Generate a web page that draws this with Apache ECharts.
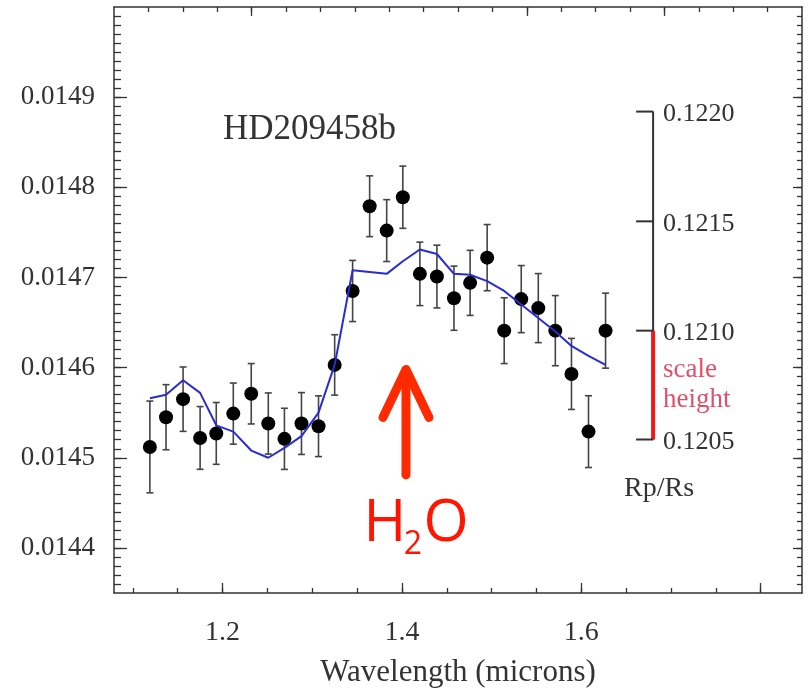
<!DOCTYPE html>
<html>
<head>
<meta charset="utf-8">
<script src="https://cdn.jsdelivr.net/npm/echarts@6/dist/echarts.min.js"></script>
<style>
  html, body { margin: 0; padding: 0; background: #fff; }
  #chart { width: 809px; height: 693px; }
</style>
</head>
<body>
<div id="chart"></div>
<script>
// Transit depth spectrum of HD209458b (WFC3 bins)
const wavelength = [1.119, 1.137, 1.156, 1.175, 1.193, 1.212, 1.232, 1.251, 1.269, 1.288,
  1.307, 1.325, 1.345, 1.364, 1.383, 1.401, 1.420, 1.439, 1.458, 1.476,
  1.495, 1.514, 1.533, 1.552, 1.571, 1.589, 1.608, 1.627];
const depth = [0.014512, 0.014545, 0.014565, 0.014522, 0.014527, 0.014549, 0.014571, 0.014538, 0.014521, 0.014538,
  0.014535, 0.014603, 0.014685, 0.014779, 0.014752, 0.014789, 0.014704, 0.014701, 0.014677, 0.014694,
  0.014722, 0.014641, 0.014676, 0.014666, 0.014641, 0.014593, 0.014529, 0.014641];
const depthErr = [0.0000509, 0.0000361, 0.0000357, 0.0000348, 0.0000343, 0.0000339, 0.0000335, 0.0000339, 0.0000339, 0.0000343,
  0.0000337, 0.0000335, 0.0000339, 0.0000337, 0.0000343, 0.0000345, 0.0000352, 0.0000348, 0.0000356, 0.0000361,
  0.0000367, 0.0000365, 0.0000372, 0.0000383, 0.0000389, 0.0000394, 0.0000398, 0.0000416];
// Model spectrum sampled at the same bins
const modelDepth = [0.014566, 0.014570, 0.014586, 0.014572, 0.014536, 0.014529, 0.014508, 0.014500, 0.014511, 0.014524,
  0.014550, 0.014603, 0.014708, 0.014706, 0.014704, 0.014718, 0.014731, 0.014726, 0.014704, 0.014703,
  0.014696, 0.014685, 0.014670, 0.014655, 0.014640, 0.014624, 0.014613, 0.014603];

// Axis labels
const xTickLabels = [1.2, 1.4, 1.6];
const yTickLabels = [0.0144, 0.0145, 0.0146, 0.0147, 0.0148, 0.0149];
// Radius-ratio scale bar (depth = (Rp/Rs)^2)
const rpRsTicks = [0.1220, 0.1215, 0.1210, 0.1205];
const scaleHeightRange = [0.1210, 0.1205];
const scaleBarX = 1.68;
// Water feature marker: x, arrow tip depth, arrow tail depth
const waterArrow = [1.4045, 0.014598, 0.014481];

const X_MIN = 1.079, X_MAX = 1.846;
const Y_MIN = 0.01435, Y_MAX = 0.0150;

const serif = 'Liberation Serif';
const ink = '#333';

const xMinor = [];
for (let k = 22; k <= 36; k++) xMinor.push(k * 0.05);
const yMinor = [];
for (let k = 1436; k <= 1499; k++) yMinor.push(k / 100000);
const topTicks = [];
for (let k = 1; k <= 19; k++) topTicks.push(k);

const chart = echarts.init(document.getElementById('chart'), null, { renderer: 'canvas' });

function tickAxis(pos, values, len) {
  return {
    type: 'value', position: pos, min: X_MIN, max: X_MAX,
    axisLine: { show: false },
    axisTick: { show: true, inside: true, length: len, customValues: values, lineStyle: { color: ink, width: 1.3 } },
    axisLabel: { show: false },
    splitLine: { show: false }
  };
}

const option = {
  animation: false,
  backgroundColor: '#fff',
  grid: { left: 114, right: 7, top: 7, bottom: 99 },
  xAxis: [
    {
      type: 'value', position: 'bottom', min: X_MIN, max: X_MAX,
      name: 'Wavelength (microns)', nameLocation: 'middle', nameGap: 64,
      nameTextStyle: { fontFamily: serif, fontSize: 31, color: ink },
      axisLine: { show: true, lineStyle: { color: ink, width: 1.5 } },
      axisTick: { show: true, inside: true, length: 10, customValues: [1.2, 1.4, 1.6, 1.8], lineStyle: { color: ink, width: 1.3 } },
      axisLabel: { show: true, customValues: xTickLabels, margin: 26, fontFamily: serif, fontSize: 28, color: ink,
        formatter: v => v.toFixed(1) },
      splitLine: { show: false }
    },
    tickAxis('bottom', xMinor, 5),
    {
      type: 'value', position: 'top', min: 0, max: 20,
      axisLine: { show: true, lineStyle: { color: ink, width: 1.5 } },
      axisTick: { show: true, inside: true, length: 5, customValues: topTicks, lineStyle: { color: ink, width: 1.3 } },
      axisLabel: { show: false }, splitLine: { show: false }
    },
    {
      type: 'value', position: 'top', min: 0, max: 20,
      axisLine: { show: false },
      axisTick: { show: true, inside: true, length: 9, customValues: [4, 12, 16], lineStyle: { color: ink, width: 1.3 } },
      axisLabel: { show: false }, splitLine: { show: false }
    }
  ],
  yAxis: [
    {
      type: 'value', position: 'left', min: Y_MIN, max: Y_MAX,
      axisLine: { show: true, lineStyle: { color: ink, width: 1.5 } },
      axisTick: { show: true, inside: true, length: 13, customValues: yTickLabels, lineStyle: { color: ink, width: 1.3 } },
      axisLabel: { show: true, customValues: yTickLabels, margin: 19, fontFamily: serif, fontSize: 27, color: ink,
        padding: [4, 0, 0, 0], formatter: v => v.toFixed(4) },
      splitLine: { show: false }
    },
    {
      type: 'value', position: 'left', min: Y_MIN, max: Y_MAX,
      axisLine: { show: false },
      axisTick: { show: true, inside: true, length: 7, customValues: yMinor, lineStyle: { color: ink, width: 1.3 } },
      axisLabel: { show: false }, splitLine: { show: false }
    },
    {
      type: 'value', position: 'right', min: Y_MIN, max: Y_MAX,
      axisLine: { show: true, lineStyle: { color: ink, width: 1.5 } },
      axisTick: { show: true, inside: true, length: 9, customValues: yTickLabels, lineStyle: { color: ink, width: 1.3 } },
      axisLabel: { show: false }, splitLine: { show: false }
    },
    {
      type: 'value', position: 'right', min: Y_MIN, max: Y_MAX,
      axisLine: { show: false },
      axisTick: { show: true, inside: true, length: 5, customValues: yMinor, lineStyle: { color: ink, width: 1.3 } },
      axisLabel: { show: false }, splitLine: { show: false }
    }
  ],
  graphic: [
    {
      type: 'text', left: 223, top: 112,
      style: { text: 'HD209458b', fontFamily: serif, fontSize: 35, fill: ink }
    }
  ],
  series: [
    {
      // error bars
      type: 'custom', xAxisIndex: 0, yAxisIndex: 0, z: 2,
      data: wavelength.map((w, i) => [w, depth[i], depthErr[i]]),
      renderItem: function (params, api) {
        const x = api.value(0), y = api.value(1), e = api.value(2);
        const hi = api.coord([x, y + e]);
        const lo = api.coord([x, y - e]);
        const cap = 3.5;
        const st = { stroke: '#444', lineWidth: 1.6 };
        return {
          type: 'group', children: [
            { type: 'line', shape: { x1: hi[0], y1: hi[1], x2: lo[0], y2: lo[1] }, style: st },
            { type: 'line', shape: { x1: hi[0] - cap, y1: hi[1], x2: hi[0] + cap, y2: hi[1] }, style: st },
            { type: 'line', shape: { x1: lo[0] - cap, y1: lo[1], x2: lo[0] + cap, y2: lo[1] }, style: st }
          ]
        };
      }
    },
    {
      type: 'scatter', xAxisIndex: 0, yAxisIndex: 0, z: 3,
      symbol: 'circle', symbolSize: 14,
      itemStyle: { color: '#000', opacity: 1 },
      data: wavelength.map((w, i) => [w, depth[i]])
    },
    {
      type: 'line', xAxisIndex: 0, yAxisIndex: 0, z: 4,
      showSymbol: false, symbol: 'none',
      lineStyle: { color: '#2a2ccf', width: 2 },
      data: wavelength.map((w, i) => [w, modelDepth[i]])
    },
    {
      // Rp/Rs scale bar
      type: 'custom', xAxisIndex: 0, yAxisIndex: 0, z: 5,
      data: [[scaleBarX]],
      renderItem: function (params, api) {
        const x = api.value(0);
        const pts = rpRsTicks.map(r => api.coord([x, r * r]));
        const red = scaleHeightRange.map(r => api.coord([x, r * r]));
        const kids = [
          { type: 'line', shape: { x1: pts[0][0], y1: pts[0][1], x2: pts[pts.length - 1][0], y2: pts[pts.length - 1][1] },
            style: { stroke: ink, lineWidth: 2 } },
          { type: 'line', shape: { x1: red[0][0], y1: red[0][1], x2: red[1][0], y2: red[1][1] },
            style: { stroke: '#f01818', lineWidth: 4 } }
        ];
        pts.forEach((p, i) => {
          kids.push({ type: 'line', shape: { x1: p[0] - 17, y1: p[1], x2: p[0], y2: p[1] }, style: { stroke: ink, lineWidth: 2 } });
          kids.push({ type: 'text', x: p[0] + 10, y: p[1] + 3,
            style: { text: rpRsTicks[i].toFixed(4), fontFamily: serif, fontSize: 26, fill: ink, verticalAlign: 'middle', align: 'left' } });
        });
        const midY = (red[0][1] + red[1][1]) / 2;
        kids.push({ type: 'text', x: red[0][0] + 10, y: midY - 15,
          style: { text: 'scale', fontFamily: serif, fontSize: 27, fill: '#e0506a', verticalAlign: 'middle', align: 'left' } });
        kids.push({ type: 'text', x: red[0][0] + 10, y: midY + 15,
          style: { text: 'height', fontFamily: serif, fontSize: 27, fill: '#e0506a', verticalAlign: 'middle', align: 'left' } });
        const base = pts[pts.length - 1];
        kids.push({ type: 'text', x: base[0] - 29, y: base[1] + 49,
          style: { text: 'Rp/Rs', fontFamily: serif, fontSize: 28, fill: ink, verticalAlign: 'middle', align: 'left' } });
        return { type: 'group', children: kids };
      }
    },
    {
      // water absorption marker
      type: 'custom', xAxisIndex: 0, yAxisIndex: 0, z: 5,
      data: [waterArrow],
      renderItem: function (params, api) {
        const x = api.value(0);
        const tip = api.coord([x, api.value(1)]);
        const tail = api.coord([x, api.value(2)]);
        const red = '#ff2a00';
        const st = { stroke: red, lineWidth: 9, lineCap: 'round', lineJoin: 'round', fill: null };
        const txt = '#ff1500';
        return {
          type: 'group', children: [
            { type: 'line', shape: { x1: tail[0], y1: tail[1], x2: tip[0], y2: tip[1] + 3 }, style: st },
            { type: 'polyline', shape: { points: [[tip[0] - 23, tip[1] + 48], [tip[0], tip[1]], [tip[0] + 23, tip[1] + 48]] }, style: st },
            { type: 'text', x: tail[0] - 21, y: tail[1] + 50,
              style: { text: 'H', fontFamily: 'Open Sans', fontSize: 58, fill: txt, align: 'center', verticalAlign: 'middle' } },
            { type: 'text', x: tail[0] + 7, y: tail[1] + 70,
              style: { text: '2', fontFamily: 'Open Sans', fontSize: 32, fill: txt, align: 'center', verticalAlign: 'middle' } },
            { type: 'text', x: tail[0] + 40, y: tail[1] + 50,
              style: { text: 'O', fontFamily: 'Open Sans', fontSize: 58, fill: txt, align: 'center', verticalAlign: 'middle' } }
          ]
        };
      }
    }
  ]
};

chart.setOption(option);
</script>
</body>
</html>
